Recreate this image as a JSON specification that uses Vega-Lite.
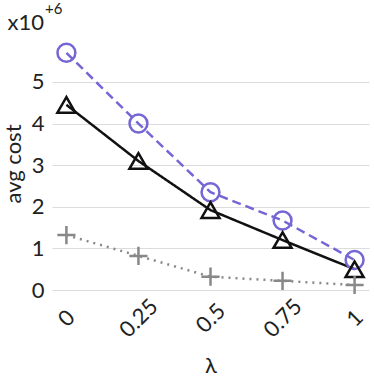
{
  "$schema": "https://vega.github.io/schema/vega-lite/v6.json",
  "width": 317,
  "height": 253,
  "autosize": {"type": "none"},
  "padding": {"left": 52, "top": 37, "right": 5, "bottom": 93},
  "config": {"view": {"stroke": null}, "font": "Lato"},
  "layer": [
    {"data": {"values": [
      {"lambda": 0, "series": "A", "cost": 5.70},
      {"lambda": 0.25, "series": "A", "cost": 4.00},
      {"lambda": 0.5, "series": "A", "cost": 2.35},
      {"lambda": 0.75, "series": "A", "cost": 1.67},
      {"lambda": 1, "series": "A", "cost": 0.72},
      {"lambda": 0, "series": "B", "cost": 4.45},
      {"lambda": 0.25, "series": "B", "cost": 3.10},
      {"lambda": 0.5, "series": "B", "cost": 1.92},
      {"lambda": 0.75, "series": "B", "cost": 1.20},
      {"lambda": 1, "series": "B", "cost": 0.50},
      {"lambda": 0, "series": "C", "cost": 1.32},
      {"lambda": 0.25, "series": "C", "cost": 0.82},
      {"lambda": 0.5, "series": "C", "cost": 0.32},
      {"lambda": 0.75, "series": "C", "cost": 0.22},
      {"lambda": 1, "series": "C", "cost": 0.12}
    ]},
    "encoding": {
      "x": {"field": "lambda", "type": "quantitative",
        "scale": {"domain": [-0.05, 1.05], "nice": false, "zero": false},
        "axis": {"values": [0, 0.25, 0.5, 0.75, 1], "format": ".2~f", "title": "λ", "grid": false, "domain": false, "ticks": false,
          "labelAngle": -45, "labelAlign": "center", "labelBaseline": "middle", "labelPadding": 28, "labelFontSize": 22, "labelColor": "#222",
          "titleFontSize": 22, "titleFontWeight": "normal", "titleColor": "#222", "titlePadding": 14}},
      "y": {"field": "cost", "type": "quantitative",
        "scale": {"domain": [0, 6.08], "nice": false},
        "axis": {"values": [0, 1, 2, 3, 4, 5], "title": "avg cost", "grid": true, "gridColor": "#dcdcdc", "gridWidth": 1.2, "domain": false, "ticks": false,
          "labelFontSize": 22, "labelColor": "#222", "labelPadding": 8,
          "titleFontSize": 22, "titleFontWeight": "normal", "titleColor": "#222", "titlePadding": 6}},
      "color": {"field": "series", "type": "nominal", "legend": null,
        "scale": {"domain": ["A", "B", "C"], "range": ["#7566d6", "#111111", "#888888"]}}
    },
    "layer": [
      {"mark": {"type": "line", "strokeWidth": 2.5},
        "encoding": {"strokeDash": {"field": "series", "type": "nominal", "legend": null,
          "scale": {"domain": ["A", "B", "C"], "range": [[9, 5], [1, 0], [2, 5]]}}}},
      {"mark": {"type": "point", "filled": false, "strokeWidth": 2.5, "opacity": 1},
        "encoding": {
          "shape": {"field": "series", "type": "nominal", "legend": null,
            "scale": {"domain": ["A", "B", "C"], "range": ["circle", "triangle-up", "M-1,0L1,0M0,-1L0,1"]}},
          "size": {"field": "series", "type": "nominal", "legend": null,
            "scale": {"domain": ["A", "B", "C"], "range": [320, 330, 260]}}}}
    ]},
    {"data": {"values": [{"label": "x10", "px": -0.05, "py": 6.08}]},
      "mark": {"type": "text", "fontSize": 22, "font": "Lato", "color": "#222", "align": "right", "baseline": "alphabetic", "dx": -8, "dy": -7},
      "encoding": {"x": {"field": "px", "type": "quantitative"}, "y": {"field": "py", "type": "quantitative"}, "text": {"field": "label", "type": "nominal"}}},
    {"data": {"values": [{"label": "+6", "px": -0.05, "py": 6.08}]},
      "mark": {"type": "text", "fontSize": 15, "font": "Lato", "color": "#222", "align": "left", "baseline": "alphabetic", "dx": -7, "dy": -23},
      "encoding": {"x": {"field": "px", "type": "quantitative"}, "y": {"field": "py", "type": "quantitative"}, "text": {"field": "label", "type": "nominal"}}}
  ]
}
